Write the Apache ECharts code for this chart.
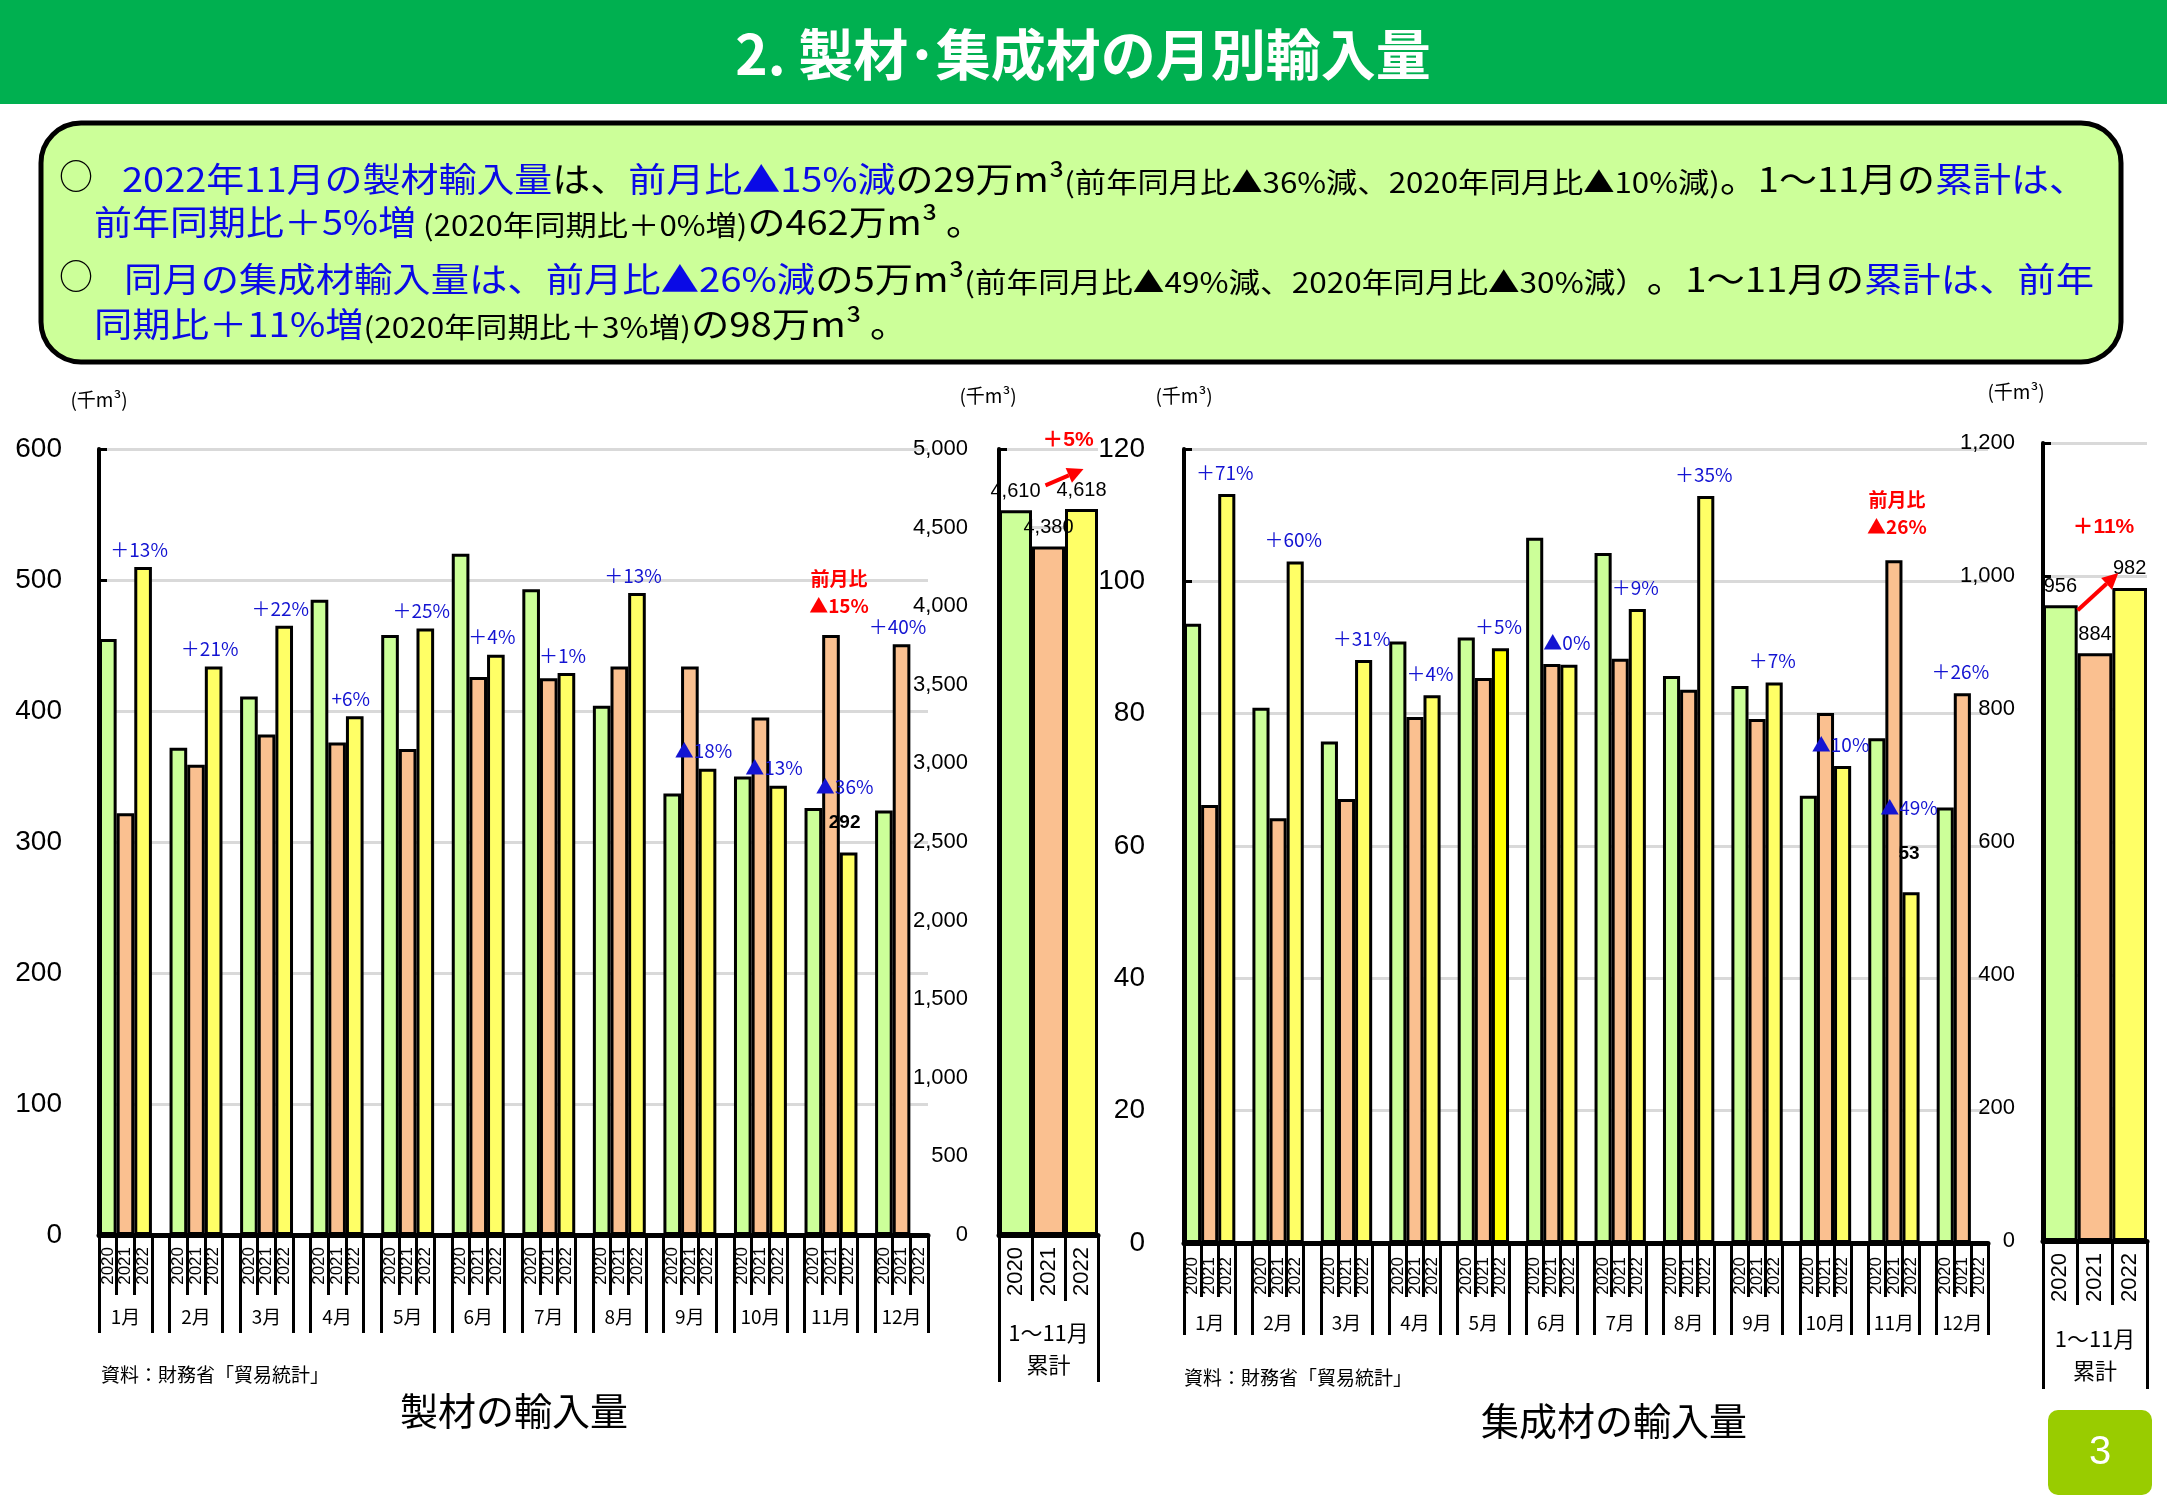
<!DOCTYPE html>
<html>
<head>
<meta charset="utf-8">
<script src="https://cdn.jsdelivr.net/npm/echarts@6.0.0/dist/echarts.min.js"></script>
<style>
html,body{margin:0;padding:0;background:#ffffff;}
#chart{width:2167px;height:1500px;}
</style>
</head>
<body>
<div id="chart"></div>
<script>
// ---------------- data ----------------
const months = ['1月','2月','3月','4月','5月','6月','7月','8月','9月','10月','11月','12月'];
const years = ['2020','2021','2022'];

// 製材 (thousand m3)
const sawn2020 = [455,372,411,485,458,520,493,404,337,350,326,324];
const sawn2021 = [322,359,382,376,371,426,425,434,434,395,458,451];
const sawn2022 = [510,434,465,396,463,443,429,490,356,343,292,null];
const sawnNotes = ['＋13%','＋21%','＋22%','+6%','＋25%','＋4%','＋1%','＋13%','▲18%','▲13%','▲36%','＋40%'];
const sawnMoM = '▲15%';
const sawnCum = [4610,4380,4618];
const sawnCumChange = '＋5%';

// 集成材 (thousand m3)
const glu2020 = [93.6,80.9,75.8,90.9,91.5,106.6,104.3,85.7,84.2,67.6,76.3,65.8];
const glu2021 = [66.2,64.2,67.1,79.5,85.4,87.5,88.3,83.6,79.2,80.1,103.2,83.1];
const glu2022 = [113.2,103,88.1,82.8,89.9,87.4,95.8,112.9,84.7,72.1,53,null];
const gluNotes = ['＋71%','＋60%','＋31%','＋4%','＋5%','▲0%','＋9%','＋35%','＋7%','▲10%','▲49%','＋26%'];
const gluMoM = '▲26%';
const gluCum = [956,884,982];
const gluCumChange = '＋11%';

// axis ranges
const sawnRange = {min:0, max:600, interval:100};
const sawnCumRange = {min:0, max:5000, interval:500};
const gluRange = {min:0, max:120, interval:20};
const gluCumRange = {min:0, max:1200, interval:200};

// ---------------- styles ----------------
const COLORS = ['#CCFF99', '#FAC090', '#FFFF66'];
const HILITE = '#FFFF00';
const FONT = "'Liberation Sans', 'Noto Sans CJK JP', sans-serif";
const JP = "'Noto Sans CJK JP', sans-serif";
const BLUE = '#1414D2';
const RED = '#FF0000';
const GRIDC = '#D9D9D9';

const SLOTS = months.length * 4 - 1;          // 3 years + spacer per month
const slotCats = Array.from({length: SLOTS}, (_, i) => String(i));
const latest = sawn2022.reduce((a, v, i) => v != null ? i : a, 0);

function noteLabel(text, dist, dx) {
  return {show:true, position:'top', distance:dist, offset:[dx,0],
          formatter:()=>text, color:BLUE, fontSize:19, fontFamily:JP};
}
function latestLabel(note, val, dist, dx, lh) {
  return {show:true, position:'top', distance:dist, offset:[dx,0],
          formatter:()=>'{n|'+note+'}\n{v|'+val+'}',
          rich:{n:{color:BLUE, fontSize:19, fontFamily:JP, lineHeight:lh},
                v:{color:'#000', fontSize:19, fontWeight:'bold', fontFamily:FONT, lineHeight:lh}}};
}
function momLabel(text, dist, dx) {
  return {show:true, position:'top', distance:dist, offset:[dx,0],
          formatter:()=>'{r|前月比}\n{r|'+text+'}',
          rich:{r:{color:RED, fontSize:19, fontWeight:'bold', fontFamily:JP, lineHeight:27}}};
}

function monthlySeries(all, yearIdx, xIdx, yIdx, notes, mom, cfg) {
  const vals = all[yearIdx];
  const data = new Array(SLOTS).fill(null);
  vals.forEach((v, m) => {
    if (v == null) return;
    const item = {value: v};
    const lastYear = all[2][m] == null ? 1 : 2;
    if (yearIdx === lastYear) {
      if (m === latest) item.label = latestLabel(notes[m], v, cfg.latestDist, cfg.dx, cfg.lh);
      else item.label = noteLabel(notes[m], cfg.dist, cfg.dx);
    }
    if (m === latest && yearIdx === 1) item.label = momLabel(mom, cfg.momDist, cfg.momDx);
    if (cfg.hilite && cfg.hilite.year === yearIdx && cfg.hilite.month === m)
      item.itemStyle = {color: HILITE};
    data[m * 4 + yearIdx] = item;
  });
  return {type:'bar', name:years[yearIdx], xAxisIndex:xIdx, yAxisIndex:yIdx, data,
          barWidth:'100%', barGap:'-100%', silent:true,
          itemStyle:{color:COLORS[yearIdx], borderColor:'#000', borderWidth:3}};
}

function cumSeries(vals, yearIdx, xIdx, yIdx) {
  const data = [null, null, null];
  data[yearIdx] = {value: vals[yearIdx]};
  return {type:'bar', name:years[yearIdx] + '累計', xAxisIndex:xIdx, yAxisIndex:yIdx, data,
          barWidth:'100%', barGap:'-100%', silent:true,
          itemStyle:{color:COLORS[yearIdx], borderColor:'#000', borderWidth:3},
          label:{show:true, position:'top', distance:9, fontSize:20, fontFamily:FONT, color:'#000',
                 formatter:p=>p.value.toLocaleString('en-US')}};
}

function yAx(grid, r, o) {
  return {type:'value', gridIndex:grid, min:r.min, max:r.max, interval:r.interval, position:'left',
    axisLine:{show:true, lineStyle:{color:'#000', width:4}},
    axisTick:{show:true, inside:true, length:8, lineStyle:{color:'#000', width:3}},
    splitLine:{show:true, lineStyle:{color:GRIDC, width:3}},
    axisLabel:{fontSize:o.fs, margin:o.margin, color:'#000', fontFamily:FONT, hideOverlap:false,
               formatter:v => o.comma ? v.toLocaleString('en-US') : String(v)},
    name:'(千m³)', nameLocation:'end', nameGap:o.nameGap,
    nameTextStyle:{fontSize:19, fontFamily:JP, color:'#000', padding:o.namePad || 0}};
}

function monthYearAxis(grid, tickLen, margin) {
  return {type:'category', gridIndex:grid, data:slotCats, position:'bottom', boundaryGap:true,
    axisLine:{show:true, onZero:false, lineStyle:{color:'#000', width:5}},
    axisTick:{show:true, interval:i => i % 4 === 1 || i % 4 === 2, length:tickLen,
              lineStyle:{color:'#000', width:3}},
    axisLabel:{interval:i => i % 4 !== 3, rotate:90, margin:margin, fontSize:17, color:'#000',
               fontFamily:FONT, hideOverlap:false, formatter:v => years[parseInt(v) % 4]},
    splitLine:{show:false}};
}
function monthNameAxis(grid, tickLen, margin) {
  return {type:'category', gridIndex:grid, data:slotCats, position:'bottom', boundaryGap:true,
    axisLine:{show:false, onZero:false},
    axisTick:{show:true, interval:i => i % 4 === 0 || i % 4 === 3, length:tickLen,
              lineStyle:{color:'#000', width:3}},
    axisLabel:{interval:i => i % 4 === 1, margin:margin, fontSize:19, color:'#000', fontFamily:JP,
               hideOverlap:false, formatter:v => months[Math.floor(parseInt(v) / 4)]},
    splitLine:{show:false}};
}
function cumYearAxis(grid, tickLen) {
  return {type:'category', gridIndex:grid, data:years, position:'bottom', boundaryGap:true,
    axisLine:{show:true, onZero:false, lineStyle:{color:'#000', width:5}},
    axisTick:{show:true, interval:i => i >= 1, length:tickLen, lineStyle:{color:'#000', width:3}},
    axisLabel:{interval:0, rotate:90, margin:12, fontSize:22, color:'#000', fontFamily:FONT, hideOverlap:false},
    splitLine:{show:false}};
}
function cumNameAxis(grid, tickLen, margin) {
  return {type:'category', gridIndex:grid, data:years, position:'bottom', boundaryGap:true,
    axisLine:{show:false, onZero:false},
    axisTick:{show:true, interval:i => i === 0, length:tickLen, lineStyle:{color:'#000', width:3}},
    axisLabel:{interval:i => i === 1, margin:margin, fontSize:22, lineHeight:32, color:'#000',
               fontFamily:JP, hideOverlap:false, formatter:() => '1～11月\n累計'},
    splitLine:{show:false}};
}

const sawnAll = [sawn2020, sawn2021, sawn2022];
const gluAll = [glu2020, glu2021, glu2022];
const sawnCfg = {dist:8, dx:-4, latestDist:12, lh:36, momDist:16, momDx:8};
const gluCfg = {dist:12, dx:-2, latestDist:16, lh:46, momDist:20, momDx:3, hilite:{year:2, month:4}};

const option = {
  animation:false,
  backgroundColor:'#ffffff',
  textStyle:{fontFamily:FONT},
  grid:[
    {left:99, top:449, width:829, height:786, outerBoundsMode:'none', containLabel:false},
    {left:999, top:449, width:99, height:786, outerBoundsMode:'none', containLabel:false},
    {left:1184, top:449, width:804, height:794, outerBoundsMode:'none', containLabel:false},
    {left:2043, top:443, width:104, height:798, outerBoundsMode:'none', containLabel:false}
  ],
  xAxis:[
    monthYearAxis(0, 60, 12),
    monthNameAxis(0, 98, 72),
    cumYearAxis(1, 66),
    cumNameAxis(1, 147, 82),
    monthYearAxis(2, 54, 14),
    monthNameAxis(2, 92, 70),
    cumYearAxis(3, 64),
    cumNameAxis(3, 148, 82)
  ],
  yAxis:[
    yAx(0, sawnRange, {fs:28, margin:37, nameGap:40}),
    yAx(1, sawnCumRange, {fs:22, margin:31, comma:true, nameGap:44, namePad:[0,22,0,0]}),
    yAx(2, gluRange, {fs:28, margin:39, nameGap:44, namePad:[0,0,0,0]}),
    yAx(3, gluCumRange, {fs:22, margin:28, comma:true, nameGap:42, namePad:[0,54,0,0]})
  ],
  series:[
    monthlySeries(sawnAll, 0, 0, 0, sawnNotes, sawnMoM, sawnCfg),
    monthlySeries(sawnAll, 1, 0, 0, sawnNotes, sawnMoM, sawnCfg),
    monthlySeries(sawnAll, 2, 0, 0, sawnNotes, sawnMoM, sawnCfg),
    cumSeries(sawnCum, 0, 2, 1),
    cumSeries(sawnCum, 1, 2, 1),
    cumSeries(sawnCum, 2, 2, 1),
    monthlySeries(gluAll, 0, 4, 2, gluNotes, gluMoM, gluCfg),
    monthlySeries(gluAll, 1, 4, 2, gluNotes, gluMoM, gluCfg),
    monthlySeries(gluAll, 2, 4, 2, gluNotes, gluMoM, gluCfg),
    cumSeries(gluCum, 0, 6, 3),
    cumSeries(gluCum, 1, 6, 3),
    cumSeries(gluCum, 2, 6, 3)
  ]
};

const chart = echarts.init(document.getElementById('chart'), null, {renderer:'canvas'});
chart.setOption(option);

// ---------------- page decorations ----------------
const measureCtx = document.createElement('canvas').getContext('2d');
const TB = {
  b:{fill:'#0A0AE6', fontSize:34, fontFamily:JP},
  k:{fill:'#000000', fontSize:34, fontFamily:JP},
  s:{fill:'#000000', fontSize:28, fontFamily:JP}
};
function segWidth(segs) {
  let w = 0;
  segs.forEach(([st, t]) => { measureCtx.font = TB[st].fontSize + 'px ' + TB[st].fontFamily; w += measureCtx.measureText(t).width; });
  return w;
}
function richText(segs) { return segs.map(([st, t]) => '{' + st + '|' + t + '}').join(''); }
const richStyles = {};
Object.keys(TB).forEach(k => { richStyles[k] = Object.assign({verticalAlign:'bottom', lineHeight:Math.round(TB[k].fontSize * 1.2)}, TB[k]); });

const L1 = [['b','2022年11月の製材輸入量'],['k','は、'],['b','前月比▲15%減'],['k','の29万m³'],['s','(前年同月比▲36%減、2020年同月比▲10%減)'],['k','。1～11月の'],['b','累計は、']];
const L2 = [['b','前年同期比＋5%増'],['s',' (2020年同期比＋0%増)'],['k','の462万m³ 。']];
const L3 = [['b','同月の集成材輸入量は、前月比▲26%減'],['k','の5万m³'],['s','(前年同月比▲49%減、2020年同月比▲30%減）'],['k','。1～11月の'],['b','累計は、前年']];
const L4 = [['b','同期比＋11%増'],['s','(2020年同期比＋3%増)'],['k','の98万m³ 。']];
const sc1 = (2087 - 122) / segWidth(L1);
const sc3 = (2094 - 124) / segWidth(L3);

function lineEl(id, segs, x, y, sx) {
  return {type:'text', id, x, y, scaleX:sx, z:20,
          style:{text:richText(segs), rich:richStyles, verticalAlign:'middle', align:'left'}};
}

function px(xi, yi, cat, val) { return chart.convertToPixel({xAxisIndex:xi, yAxisIndex:yi}, [cat, val]); }

function arrow(id, p0, p1) {
  const dx = p1[0] - p0[0], dy = p1[1] - p0[1];
  const L = Math.sqrt(dx * dx + dy * dy), ux = dx / L, uy = dy / L;
  const hl = 16, hw = 8;
  const bx = p1[0] - ux * hl, by = p1[1] - uy * hl;
  return [
    {type:'line', id:id + 'l', z:30, shape:{x1:p0[0], y1:p0[1], x2:bx, y2:by}, style:{stroke:RED, lineWidth:4}},
    {type:'polygon', id:id + 'h', z:30, shape:{points:[[p1[0], p1[1]], [bx - uy * hw, by + ux * hw], [bx + uy * hw, by - ux * hw]]}, style:{fill:RED}}
  ];
}

// cumulative arrows & change labels, positioned from the axes
const sG = px(2, 1, 0, sawnCum[0]), sO = px(2, 1, 1, sawnCum[1]), sY = px(2, 1, 2, sawnCum[2]);
const gG = px(6, 3, 0, gluCum[0]), gO = px(6, 3, 1, gluCum[1]), gY = px(6, 3, 2, gluCum[2]);
const sBW = sO[0] - sG[0], gBW = gO[0] - gG[0];

const graphics = [
  {type:'rect', id:'hdr', z:1, shape:{x:0, y:0, width:2167, height:104}, style:{fill:'#00B050'}},
  {type:'text', id:'title', z:2, x:1083, y:54, style:{text:'2. 製材･集成材の月別輸入量', fill:'#fff', font:'bold 55px ' + JP, align:'center', verticalAlign:'middle'}},
  {type:'rect', id:'box', z:5, shape:{x:41, y:123, width:2080, height:239, r:40}, style:{fill:'#CCFF99', stroke:'#000', lineWidth:5}},
  {type:'text', id:'c1', z:20, x:76, y:176, style:{text:'○', fill:'#000', font:'34px ' + JP, align:'center', verticalAlign:'middle'}},
  {type:'text', id:'c3', z:20, x:76, y:276, style:{text:'○', fill:'#000', font:'34px ' + JP, align:'center', verticalAlign:'middle'}},
  lineEl('t1', L1, 122, 176, sc1),
  lineEl('t2', L2, 94, 219, sc1),
  lineEl('t3', L3, 124, 276, sc3),
  lineEl('t4', L4, 94, 321, sc3),
  {type:'text', id:'src1', z:20, x:101, y:1375, style:{text:'資料：財務省「貿易統計」', fill:'#000', font:'19px ' + JP, align:'left', verticalAlign:'middle'}},
  {type:'text', id:'src2', z:20, x:1184, y:1378, style:{text:'資料：財務省「貿易統計」', fill:'#000', font:'19px ' + JP, align:'left', verticalAlign:'middle'}},
  {type:'text', id:'ttl1', z:20, x:514, y:1411, style:{text:'製材の輸入量', fill:'#000', font:'38px ' + JP, align:'center', verticalAlign:'middle'}},
  {type:'text', id:'ttl2', z:20, x:1614, y:1421, style:{text:'集成材の輸入量', fill:'#000', font:'38px ' + JP, align:'center', verticalAlign:'middle'}},
  {type:'rect', id:'pg', z:5, shape:{x:2048, y:1410, width:104, height:85, r:10}, style:{fill:'#99CC00'}},
  {type:'text', id:'pgn', z:6, x:2100, y:1453, style:{text:'3', fill:'#fff', font:'40px ' + FONT, align:'center', verticalAlign:'middle'}},
  {type:'text', id:'sc', z:30, x:(sO[0] + sY[0]) / 2 + 3, y:sY[1] - 69, style:{text:sawnCumChange, fill:RED, font:'bold 21px ' + FONT, align:'center', verticalAlign:'middle'}},
  {type:'text', id:'gc', z:30, x:(gO[0] + gY[0]) / 2 - 9, y:gY[1] - 61, style:{text:gluCumChange, fill:RED, font:'bold 21px ' + FONT, align:'center', verticalAlign:'middle'}}
].concat(
  arrow('sa', [sO[0] - 3, sG[1] - 25], [sY[0] + 2, sY[1] - 40]),
  arrow('ga', [gG[0] + gBW / 2, gG[1] + 5], [gY[0] - gBW / 2 + 6, gY[1] - 15])
);

chart.setOption({graphic: graphics});
</script>
</body>
</html>
